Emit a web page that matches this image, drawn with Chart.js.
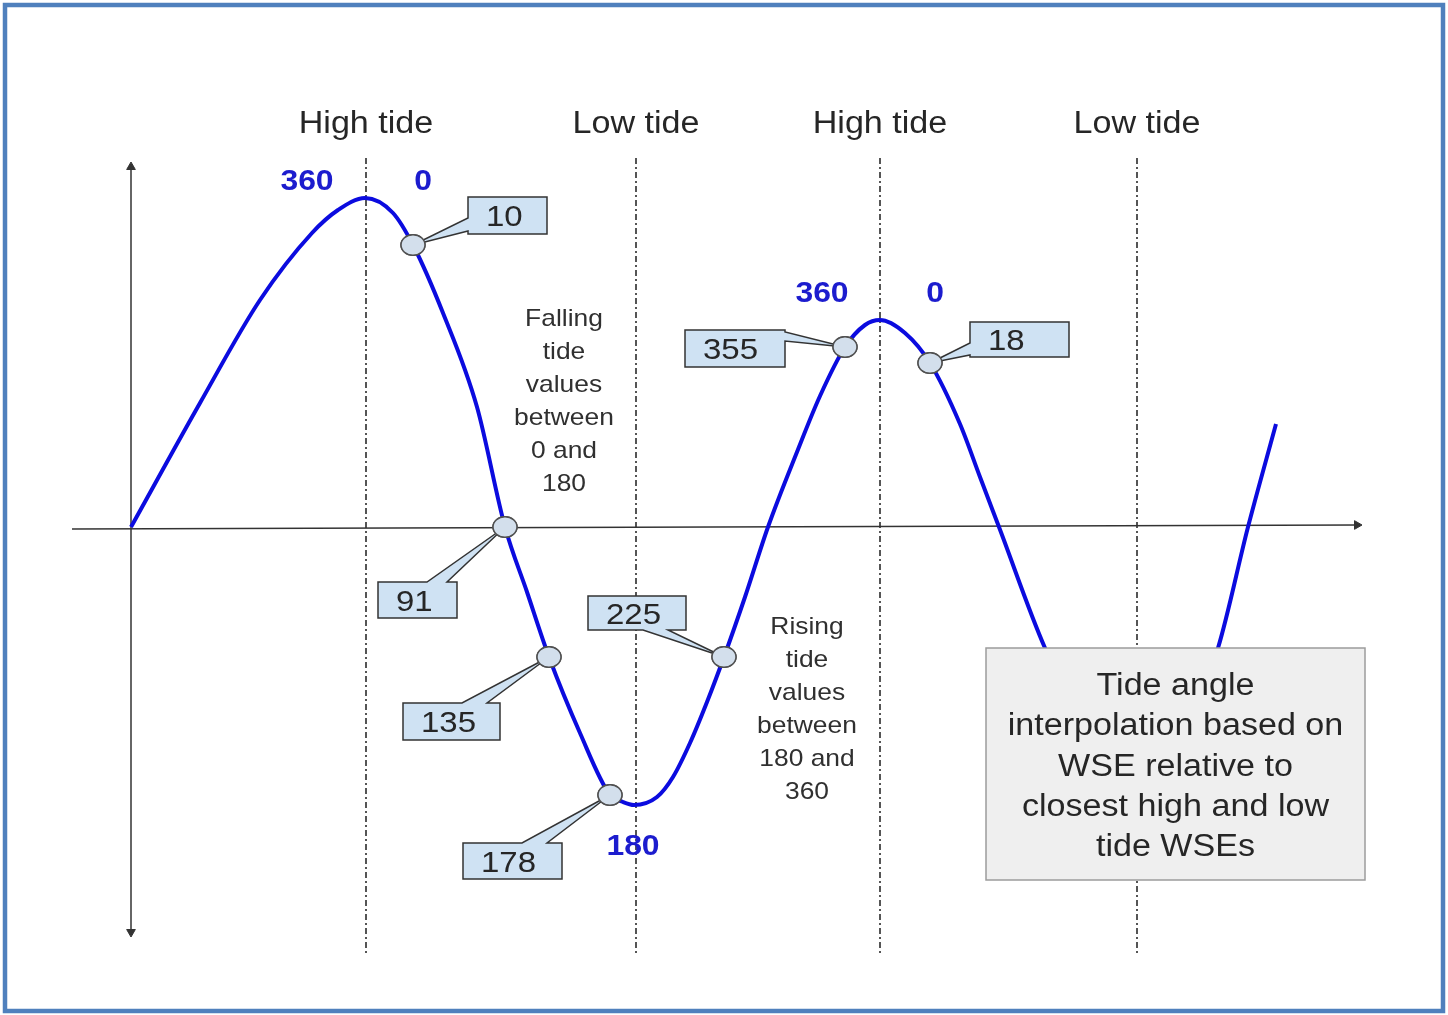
<!DOCTYPE html>
<html>
<head>
<meta charset="utf-8">
<title>Tide angle interpolation</title>
<script src="https://cdn.jsdelivr.net/npm/chart.js@4.4.1/dist/chart.umd.min.js"></script>
<style>
  html, body { margin: 0; padding: 0; background: #fff; }
  canvas { display: block; }
</style>
</head>
<body>
<canvas id="tide" width="1448" height="1015"></canvas>
<script>
// water surface elevation over time (time units, metres relative to mean)
const tideTime = [0, 6.9, 12.9, 18.1, 20.7, 23.4, 26.2, 28.2, 31.2, 34.6,
  37.4, 39.6, 41.8, 44.9, 47.9, 49.2, 50.3, 52.6, 54.2, 55.9,
  57.6, 59.3, 61.4, 63.7, 66.6, 68.9, 71.4, 73.4, 74.9, 77.4,
  79.9, 82.9, 84.9, 86.8, 91.4, 95.9, 100.6, 105.4, 108.7, 111.7,
  114.5];
const tideLevel = [0, 1.24, 2.27, 2.94, 3.17, 3.29, 3.14, 2.82, 2.14, 1.20,
  0, -0.65, -1.30, -2.06, -2.68, -2.75, -2.78, -2.70, -2.50, -2.16,
  -1.75, -1.30, -0.70, 0, 0.75, 1.31, 1.80, 2.02, 2.07, 1.94,
  1.64, 1.03, 0.50, 0, -1.21, -2.08, -2.43, -2.03, -1.21, 0,
  1.03];

// sample points with their tide angle
const markerAngle = [10, 91, 135, 178, 225, 355, 18];
const markerTime = [28.2, 37.4, 41.8, 47.9, 59.3, 71.4, 79.9];
const markerLevel = [2.82, 0, -1.30, -2.68, -1.30, 1.80, 1.64];

// high / low tide events
const tideEvents = ['High tide', 'Low tide', 'High tide', 'Low tide'];
const tideEventTime = [23.5, 50.5, 74.9, 100.6];

const phaseAngleText = ['360', '0', '180', '360', '0'];
const fallingNote = ['Falling', 'tide', 'values', 'between', '0 and', '180'];
const risingNote = ['Rising', 'tide', 'values', 'between', '180 and', '360'];
const noteBox = ['Tide angle', 'interpolation based on', 'WSE relative to', 'closest high and low', 'tide WSEs'];

// ---- layout (data units unless said otherwise) ----
const FONT = '"Liberation Sans", Arial, sans-serif';
const BLUE = '#0b0bdf';
const LABEL_BLUE = '#1c1cce';
const INK = '#262626';
const STRETCH = 1.1;

const layout = {
  tideLabelY: 3.94,
  lineTop: 3.69,
  lineBottom: -4.26,
  phasePos: [[17.6, 3.37], [29.2, 3.37], [50.2, -3.28], [69.1, 2.25], [80.4, 2.25]],
  fallingPos: [43.3, 2.01],
  risingPos: [67.6, -1.07],
  noteStep: 0.33,
  box: { x0: 85.5, x1: 123.4, y0: -1.21, y1: -3.53, textY: -1.68, step: 0.403 }
};

// callout boxes, pixel offsets from their marker
const callouts = [
  { dx: 55, dy: -48, w: 79, h: 37, side: 'left', b1: 21, b2: 34 },
  { dx: -127, dy: 55, w: 79, h: 36, side: 'top', b1: 49, b2: 69 },
  { dx: -146, dy: 46, w: 97, h: 37, side: 'top', b1: 59, b2: 84 },
  { dx: -147, dy: 48, w: 99, h: 36, side: 'top', b1: 59, b2: 84 },
  { dx: -136, dy: -61, w: 98, h: 34, side: 'bottom', b1: 55, b2: 80 },
  { dx: -160, dy: -17, w: 100, h: 37, side: 'right', b1: 2, b2: 11 },
  { dx: 40, dy: -41, w: 99, h: 35, side: 'left', b1: 21, b2: 33 }
];

// slightly wide oval marker like the original drawing
const dot = document.createElement('canvas');
dot.width = 28; dot.height = 24;
(function () {
  const g = dot.getContext('2d');
  g.beginPath();
  g.ellipse(14, 12, 12, 10.2, 0, 0, Math.PI * 2);
  g.fillStyle = '#d3dfec';
  g.fill();
  g.lineWidth = 1.5;
  g.strokeStyle = '#505050';
  g.stroke();
})();

function text(ctx, s, x, y, font, color, align) {
  ctx.save();
  ctx.font = font;
  ctx.fillStyle = color;
  ctx.textBaseline = 'alphabetic';
  ctx.textAlign = align || 'center';
  ctx.translate(x, y);
  ctx.scale(STRETCH, 1);
  ctx.fillText(s, 0, 0);
  ctx.restore();
}

function calloutPath(ctx, l, t, w, h, c, tx, ty) {
  const r = l + w, b = t + h;
  ctx.beginPath();
  ctx.moveTo(l, t);
  if (c.side === 'top') { ctx.lineTo(l + c.b1, t); ctx.lineTo(tx, ty); ctx.lineTo(l + c.b2, t); }
  ctx.lineTo(r, t);
  if (c.side === 'right') { ctx.lineTo(r, t + c.b1); ctx.lineTo(tx, ty); ctx.lineTo(r, t + c.b2); }
  ctx.lineTo(r, b);
  if (c.side === 'bottom') { ctx.lineTo(l + c.b2, b); ctx.lineTo(tx, ty); ctx.lineTo(l + c.b1, b); }
  ctx.lineTo(l, b);
  if (c.side === 'left') { ctx.lineTo(l, t + c.b2); ctx.lineTo(tx, ty); ctx.lineTo(l, t + c.b1); }
  ctx.closePath();
}

const decor = {
  id: 'decor',
  beforeDraw(chart) {
    const ctx = chart.ctx;
    ctx.save();
    ctx.fillStyle = '#fff';
    ctx.fillRect(0, 0, chart.width, chart.height);
    ctx.restore();
  },
  afterDatasetsDraw(chart) {
    const { ctx, scales: { x, y } } = chart;
    const px = v => x.getPixelForValue(v);
    const py = v => y.getPixelForValue(v);
    const marks = chart.getDatasetMeta(0).data;

    // callout boxes
    ctx.save();
    ctx.lineJoin = 'miter';
    marks.forEach((pt, i) => {
      const c = callouts[i];
      const l = pt.x + c.dx, t = pt.y + c.dy;
      calloutPath(ctx, l, t, c.w, c.h, c, pt.x, pt.y);
      ctx.fillStyle = '#cfe2f3';
      ctx.fill();
      ctx.lineWidth = 1.5;
      ctx.strokeStyle = '#333';
      ctx.stroke();
      text(ctx, String(markerAngle[i]), l + 18, t + c.h / 2 + 10.7, '30px ' + FONT, INK, 'left');
    });
    ctx.restore();

    // markers back on top of the callout pointers
    marks.forEach(pt => pt.draw(ctx, chart.chartArea));

    // note box covering the last trough
    const b = layout.box;
    ctx.save();
    ctx.fillStyle = '#efefef';
    ctx.strokeStyle = '#9c9c9c';
    ctx.lineWidth = 1.5;
    ctx.fillRect(px(b.x0), py(b.y0), px(b.x1) - px(b.x0), py(b.y1) - py(b.y0));
    ctx.strokeRect(px(b.x0), py(b.y0), px(b.x1) - px(b.x0), py(b.y1) - py(b.y0));
    ctx.restore();
    const bx = (px(b.x0) + px(b.x1)) / 2;
    noteBox.forEach((s, i) => text(ctx, s, bx, py(b.textY - i * b.step), '31px ' + FONT, INK));

    // tide event labels
    tideEvents.forEach((s, i) => text(ctx, s, px(tideEventTime[i]), py(layout.tideLabelY), '31px ' + FONT, INK));

    // tide angle at extremes
    phaseAngleText.forEach((s, i) => {
      const p = layout.phasePos[i];
      text(ctx, s, px(p[0]), py(p[1]), 'bold 29px ' + FONT, LABEL_BLUE);
    });

    // falling / rising notes
    fallingNote.forEach((s, i) => text(ctx, s, px(layout.fallingPos[0]), py(layout.fallingPos[1] - i * layout.noteStep), '24px ' + FONT, '#303030'));
    risingNote.forEach((s, i) => text(ctx, s, px(layout.risingPos[0]), py(layout.risingPos[1] - i * layout.noteStep), '24px ' + FONT, '#303030'));
  },
  afterDraw(chart) {
    const ctx = chart.ctx;
    ctx.save();
    ctx.strokeStyle = '#4f80bd';
    ctx.lineWidth = 4.5;
    ctx.strokeRect(5, 5, chart.width - 10, chart.height - 9);
    ctx.restore();
  }
};

const curve = tideTime.map((t, i) => ({ x: t, y: tideLevel[i] }));
const markers = markerTime.map((t, i) => ({ x: t, y: markerLevel[i] }));

const tideLines = tideEventTime.map(t => ({
  data: [{ x: t, y: layout.lineTop }, { x: t, y: layout.lineBottom }],
  borderColor: '#1e1e1e',
  borderWidth: 1.5,
  borderDash: [6, 3, 2, 3],
  pointRadius: 0
}));

new Chart(document.getElementById('tide'), {
  type: 'line',
  data: {
    datasets: [
      {
        data: markers,
        showLine: false,
        pointStyle: dot,
        pointRadius: 12
      },
      {
        data: curve,
        borderColor: BLUE,
        borderWidth: 4,
        pointRadius: 0,
        cubicInterpolationMode: 'monotone',
        fill: false
      },
      {
        // time axis
        data: [{ x: -5.9, y: -0.02 }, { x: 122.6, y: 0.02 }],
        borderColor: '#333',
        borderWidth: 1.5,
        pointStyle: 'triangle',
        pointRadius: [0, 5],
        pointRotation: 90,
        pointBackgroundColor: '#333',
        pointBorderColor: '#333',
        pointBorderWidth: 1
      },
      {
        // WSE axis
        data: [{ x: 0, y: -4.05 }, { x: 0, y: 3.60 }],
        borderColor: '#333',
        borderWidth: 1.5,
        pointStyle: 'triangle',
        pointRadius: 5,
        pointRotation: [180, 0],
        pointBackgroundColor: '#333',
        pointBorderColor: '#333',
        pointBorderWidth: 1
      },
      ...tideLines
    ]
  },
  options: {
    responsive: false,
    animation: false,
    events: [],
    layout: { padding: 0, autoPadding: false },
    plugins: { legend: { display: false }, tooltip: { enabled: false } },
    scales: {
      x: { type: 'linear', min: -13.1, max: 131.7, display: false },
      y: { type: 'linear', min: -4.88, max: 5.27, display: false }
    }
  },
  plugins: [decor]
});
</script>
</body>
</html>
